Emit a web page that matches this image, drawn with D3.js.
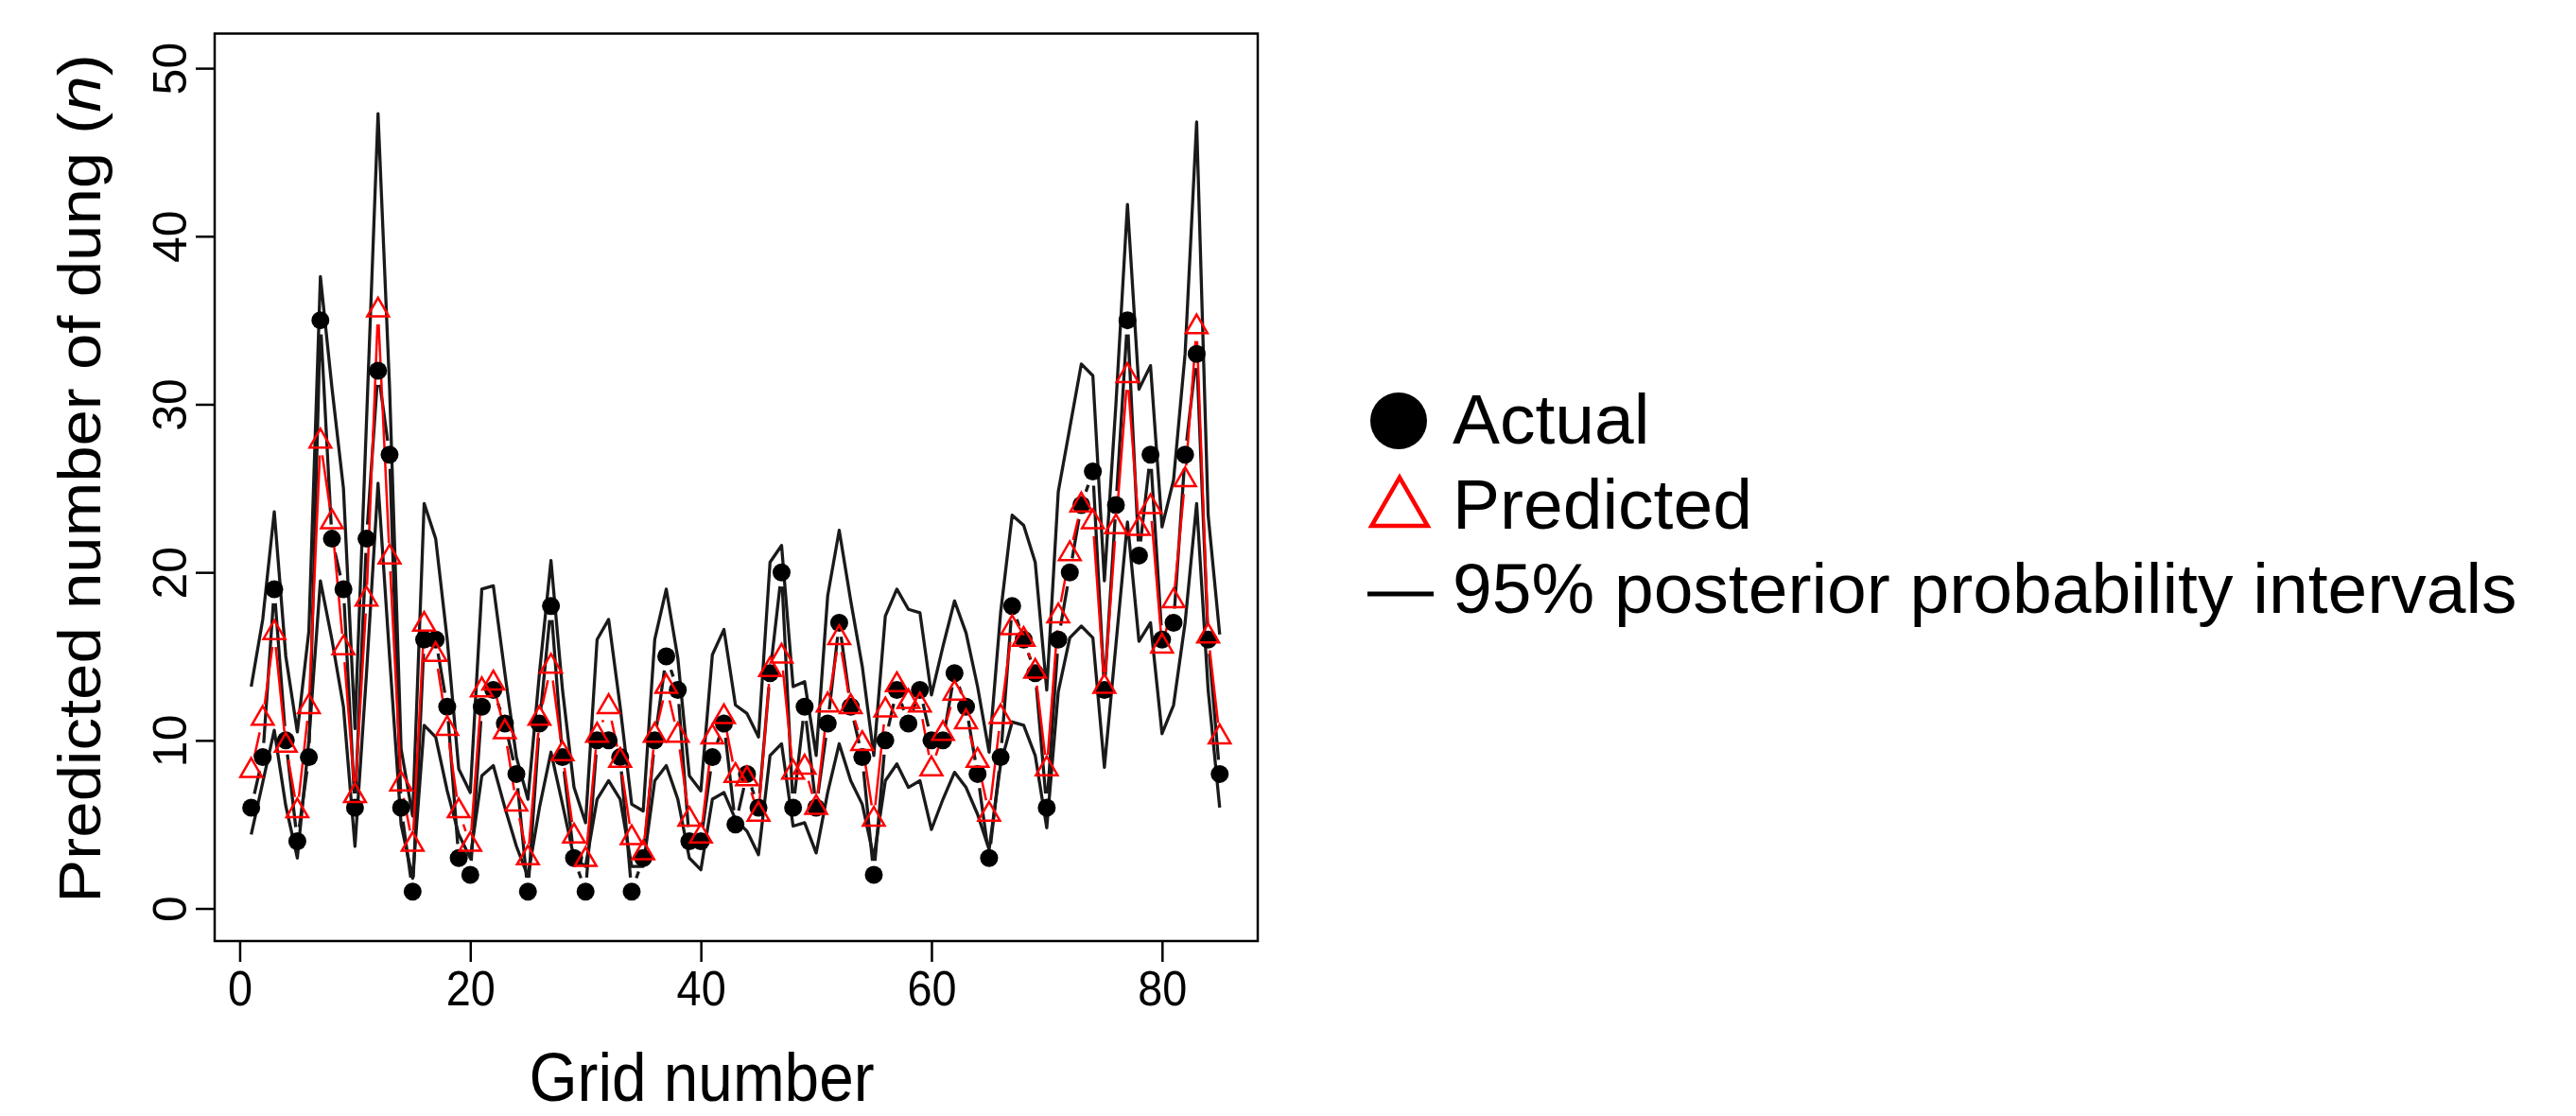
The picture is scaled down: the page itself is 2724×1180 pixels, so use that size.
<!DOCTYPE html>
<html>
<head>
<meta charset="utf-8">
<script src="https://cdn.jsdelivr.net/npm/d3@7"></script>
<style>
  html, body { margin: 0; padding: 0; background: #fff; }
  svg text { font-family: "Liberation Sans", Arial, sans-serif; fill: #000; }
</style>
</head>
<body>
<div id="chart"></div>
<script>
// grid numbers 1..85
var grid = d3.range(1, 86);

var actual = [6, 9, 19, 10, 4, 9, 35, 22, 19, 6, 22, 32, 27, 6, 1, 16, 16, 12, 3, 2,
  12, 13, 11, 8, 1, 11, 18, 9, 3, 1, 10, 10, 9, 1, 3, 10, 15, 13, 4, 4,
  9, 11, 5, 8, 6, 14, 20, 6, 12, 6, 11, 17, 12, 9, 2, 10, 13, 11, 13, 10,
  10, 14, 12, 8, 3, 9, 18, 16, 14, 6, 16, 20, 24, 26, 13, 24, 35, 21, 27, 16,
  17, 27, 33, 16, 8];

var predicted = [8.2, 11.3, 16.4, 9.7, 5.8, 12.0, 27.8, 23.0, 15.5, 6.7, 18.4, 35.6, 20.9, 7.4, 3.8, 16.9, 15.1, 10.7, 5.8, 3.8,
  13.0, 13.4, 10.5, 6.2, 3.0, 11.3, 14.4, 9.2, 4.3, 2.9, 10.3, 12.0, 8.8, 4.2, 3.3, 10.3, 13.2, 10.3, 5.3, 4.3,
  10.2, 11.4, 7.9, 7.7, 5.6, 14.2, 15.0, 8.1, 8.4, 6.0, 12.1, 16.1, 12.0, 9.8, 5.3, 11.8, 13.3, 12.3, 12.1, 8.3,
  10.4, 12.8, 11.1, 8.8, 5.6, 11.4, 16.7, 16.0, 14.1, 8.3, 17.4, 21.1, 24.0, 23.0, 13.2, 22.7, 31.7, 22.6, 23.9, 15.6,
  18.3, 25.5, 34.6, 16.2, 10.2];

var lower = [4.4, 7.5, 10.6, 6.1, 3.0, 10.0, 19.5, 16.0, 12.0, 3.7, 14.0, 25.3, 15.0, 5.0, 1.8, 10.9, 10.2, 7.0, 4.4, 3.0,
  7.9, 8.5, 6.0, 3.7, 1.9, 6.0, 9.3, 6.2, 3.0, 2.5, 6.5, 7.6, 6.5, 2.5, 2.5, 7.6, 8.5, 6.5, 3.0, 2.3,
  6.5, 6.9, 5.3, 4.6, 3.2, 9.1, 9.8, 4.9, 5.1, 3.3, 6.9, 9.8, 7.6, 6.2, 3.0, 7.6, 8.6, 7.2, 7.6, 4.7,
  6.5, 8.1, 7.2, 5.6, 3.5, 8.6, 11.1, 10.9, 9.1, 4.8, 12.9, 16.1, 16.8, 16.1, 8.4, 15.7, 23.0, 15.9, 17.0, 10.4,
  12.1, 17.0, 24.1, 13.0, 6.0];

var upper = [13.2, 17.2, 23.6, 15.0, 10.5, 16.5, 37.6, 31.0, 25.0, 10.7, 29.0, 47.3, 31.0, 9.5, 5.5, 24.1, 22.0, 16.0, 8.3, 6.9,
  19.0, 19.2, 14.0, 9.0, 6.5, 14.0, 20.7, 13.0, 7.2, 5.1, 16.0, 17.2, 12.0, 6.2, 5.8, 16.0, 19.0, 14.9, 7.9, 7.0,
  15.1, 16.6, 12.1, 11.6, 10.2, 20.6, 21.6, 13.2, 13.5, 9.1, 18.6, 22.5, 18.3, 14.4, 9.1, 17.4, 19.0, 17.8, 17.6, 12.7,
  15.6, 18.3, 16.4, 13.2, 9.3, 17.6, 23.4, 22.8, 20.6, 13.0, 24.8, 28.6, 32.4, 31.7, 19.5, 30.0, 41.9, 30.9, 32.3, 22.7,
  25.5, 33.0, 46.8, 23.4, 16.3];

var xTicks = [0, 20, 40, 60, 80];
var yTicks = [0, 10, 20, 30, 40, 50];

var legendItems = ["Actual", "Predicted", "95% posterior probability intervals"];

var W = 2724, H = 1180;
var box = { left: 227, right: 1330, top: 35.5, bottom: 995 };
var squeeze = 0.9;   // plot texts look horizontally condensed in the original
var gap = 15;        // R type = "b": segments stop short of each point

var svg = d3.select("#chart").append("svg")
  .attr("width", W)
  .attr("height", H);

var x = d3.scaleLinear().domain([-2.17, 88.3]).range([box.left, box.right]);
var y = d3.scaleLinear().domain([-1.94, 52.06]).range([box.bottom, box.top]);

// axes, R style: ticks outside, labels below / rotated at left
var xAxis = d3.axisBottom(x).tickValues(xTicks).tickSize(22).tickFormat(d3.format("d"));
var gx = svg.append("g")
  .attr("transform", "translate(0," + box.bottom + ")")
  .call(xAxis);
gx.select(".domain").remove();
gx.selectAll(".tick line").attr("stroke", "#000").attr("stroke-width", 2.5);
gx.selectAll(".tick text")
  .attr("y", 68).attr("dy", 0)
  .attr("transform", "scale(" + squeeze + ",1)")
  .style("font-size", "52px");

var yAxis = d3.axisLeft(y).tickValues(yTicks).tickSize(20).tickFormat(d3.format("d"));
var gy = svg.append("g")
  .attr("transform", "translate(" + box.left + ",0)")
  .call(yAxis);
gy.select(".domain").remove();
gy.selectAll(".tick line").attr("stroke", "#000").attr("stroke-width", 2.5);
gy.selectAll(".tick text")
  .attr("x", 0).attr("dy", 0)
  .attr("transform", "translate(-30,0) rotate(-90)")
  .attr("text-anchor", "middle")
  .style("font-size", "50px");

// axis titles
svg.append("text")
  .attr("transform", "translate(742,1164) scale(" + squeeze + ",1)")
  .attr("text-anchor", "middle")
  .style("font-size", "73px")
  .text("Grid number");

var yTitle = svg.append("text")
  .attr("transform", "translate(106,506) rotate(-90) scale(1," + squeeze + ")")
  .attr("text-anchor", "middle")
  .style("font-size", "69px");
yTitle.append("tspan").text("Predicted number of dung (");
yTitle.append("tspan").style("font-style", "italic").text("n");
yTitle.append("tspan").text(")");

// plot box
svg.append("rect")
  .attr("x", box.left).attr("y", box.top)
  .attr("width", box.right - box.left).attr("height", box.bottom - box.top)
  .attr("fill", "none").attr("stroke", "#000").attr("stroke-width", 2.5);

var line = function (vals) {
  return d3.line()
    .x(function (d, i) { return x(grid[i]); })
    .y(function (d) { return y(d); })(vals);
};

// segments between points with a gap at each end (like R's type = "b")
function gapped(vals) {
  var p = d3.path();
  for (var i = 1; i < vals.length; i++) {
    var x0 = x(grid[i - 1]), y0 = y(vals[i - 1]), x1 = x(grid[i]), y1 = y(vals[i]);
    var f = gap / Math.hypot(x1 - x0, y1 - y0);
    if (f < 0.5) {
      p.moveTo(x0 + f * (x1 - x0), y0 + f * (y1 - y0));
      p.lineTo(x1 - f * (x1 - x0), y1 - f * (y1 - y0));
    }
  }
  return p.toString();
}

// interval lines
[lower, upper].forEach(function (vals) {
  svg.append("path")
    .attr("d", line(vals))
    .attr("fill", "none")
    .attr("stroke", "#1a1a1a")
    .attr("stroke-width", 3.3)
    .attr("stroke-linejoin", "round");
});

// actual: points joined by broken black segments
svg.append("path")
  .attr("d", gapped(actual))
  .attr("fill", "none")
  .attr("stroke", "#1a1a1a")
  .attr("stroke-width", 3.3);

// predicted: broken red segments
svg.append("path")
  .attr("d", gapped(predicted))
  .attr("fill", "none")
  .attr("stroke", "#f00")
  .attr("stroke-width", 2.5);

// actual points
svg.append("g").selectAll("circle")
  .data(actual)
  .enter().append("circle")
  .attr("cx", function (d, i) { return x(grid[i]); })
  .attr("cy", function (d) { return y(d); })
  .attr("r", 9.5)
  .attr("fill", "#000");

// predicted triangles (R pch 2 geometry)
function tri(cx, cy, r) {
  var top = 1.555 * r, bot = 0.778 * r, half = 1.347 * r;
  return "M" + cx + "," + (cy - top) + "L" + (cx + half) + "," + (cy + bot) +
    "L" + (cx - half) + "," + (cy + bot) + "Z";
}
svg.append("g").selectAll("path")
  .data(predicted)
  .enter().append("path")
  .attr("d", function (d, i) { return tri(x(grid[i]), y(d), 8.5); })
  .attr("fill", "none")
  .attr("stroke", "#f00")
  .attr("stroke-width", 2.5);

// legend
var lg = svg.append("g");
lg.append("circle").attr("cx", 1479).attr("cy", 445).attr("r", 30).attr("fill", "#000");
lg.append("path").attr("d", tri(1480, 539, 22)).attr("fill", "none").attr("stroke", "#f00").attr("stroke-width", 4.5);
lg.append("line").attr("x1", 1446).attr("x2", 1516).attr("y1", 628).attr("y2", 628)
  .attr("stroke", "#000").attr("stroke-width", 5);
lg.selectAll("text")
  .data(legendItems)
  .enter().append("text")
  .attr("x", 1536)
  .attr("y", function (d, i) { return 469 + i * 89.5; })
  .style("font-size", "75px")
  .text(function (d) { return d; });
</script>
</body>
</html>
